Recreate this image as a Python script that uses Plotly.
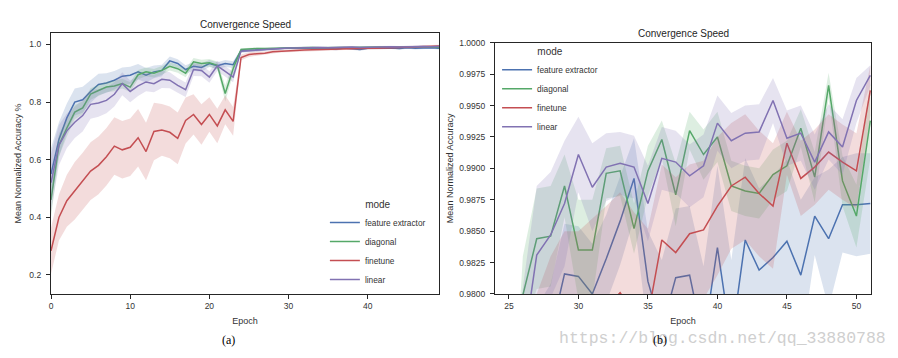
import plotly.graph_objects as go

# ---------------- data: panel (a) ----------------
epochs_a = list(range(0, 50))

fe_a = [0.55, 0.67, 0.745, 0.80, 0.808, 0.837, 0.861, 0.866, 0.876, 0.890,
        0.893, 0.905, 0.893, 0.905, 0.910, 0.943, 0.934, 0.913, 0.924, 0.920,
        0.934, 0.926, 0.934, 0.930,
        0.978, 0.980, 0.981, 0.983, 0.985, 0.986, 0.988, 0.987, 0.988, 0.987,
        0.988, 0.987, 0.984, 0.988, 0.985, 0.983, 0.987, 0.986, 0.987, 0.988,
        0.986, 0.989, 0.987, 0.988, 0.989, 0.987]
dg_a = [0.46, 0.65, 0.71, 0.765, 0.78, 0.828, 0.840, 0.852, 0.856, 0.864,
        0.852, 0.895, 0.905, 0.900, 0.910, 0.924, 0.916, 0.900, 0.940, 0.934,
        0.937, 0.928, 0.830, 0.916,
        0.983, 0.985, 0.986, 0.986, 0.987, 0.988, 0.988, 0.989, 0.989, 0.990,
        0.989, 0.990, 0.991, 0.990, 0.990, 0.991, 0.990, 0.991, 0.991, 0.990,
        0.991, 0.991, 0.992, 0.991, 0.992, 0.990]
ft_a = [0.283, 0.399, 0.457, 0.492, 0.524, 0.560, 0.580, 0.610, 0.647, 0.634,
        0.643, 0.676, 0.628, 0.698, 0.703, 0.695, 0.674, 0.736, 0.757, 0.722,
        0.757, 0.717, 0.773, 0.733,
        0.955, 0.965, 0.968, 0.970, 0.975, 0.977, 0.978, 0.980, 0.981, 0.982,
        0.983, 0.984, 0.984, 0.985, 0.986, 0.986, 0.987, 0.987, 0.988, 0.988,
        0.989, 0.990, 0.991, 0.992, 0.993, 0.995]
ln_a = [0.52, 0.65, 0.70, 0.73, 0.753, 0.792, 0.797, 0.806, 0.827, 0.864,
        0.837, 0.856, 0.870, 0.864, 0.879, 0.876, 0.858, 0.843, 0.913, 0.910,
        0.887, 0.926, 0.907, 0.887,
        0.977, 0.979, 0.980, 0.983, 0.986, 0.987, 0.988, 0.988, 0.989, 0.989,
        0.990, 0.989, 0.990, 0.990, 0.991, 0.990, 0.991, 0.991, 0.991, 0.992,
        0.991, 0.992, 0.992, 0.993, 0.992, 0.993]

# half-widths of the shaded confidence bands
fe_ci_a = [0.09, 0.06, 0.05, 0.047, 0.045, 0.040, 0.037, 0.034, 0.032, 0.030,
           0.030, 0.027, 0.025, 0.022, 0.020, 0.015, 0.015, 0.015, 0.015, 0.015,
           0.012, 0.012, 0.012, 0.012,
           0.006, 0.005, 0.005, 0.005, 0.004, 0.004, 0.004, 0.004, 0.004, 0.004,
           0.004, 0.004, 0.005, 0.004, 0.004, 0.005, 0.004, 0.004, 0.004, 0.004,
           0.004, 0.004, 0.004, 0.004, 0.004, 0.004]
dg_ci_a = [0.06, 0.04, 0.03, 0.025, 0.022, 0.020, 0.020, 0.018, 0.018, 0.017,
           0.017, 0.016, 0.015, 0.015, 0.015, 0.014, 0.014, 0.014, 0.013, 0.013,
           0.013, 0.013, 0.028, 0.020,
           0.004, 0.004, 0.004, 0.003, 0.003, 0.003, 0.003, 0.003, 0.003, 0.003,
           0.003, 0.003, 0.003, 0.003, 0.003, 0.003, 0.003, 0.003, 0.003, 0.003,
           0.003, 0.003, 0.003, 0.003, 0.003, 0.003]
ft_ci_a = [0.08, 0.08, 0.09, 0.10, 0.10, 0.10, 0.10, 0.10, 0.10, 0.10,
           0.10, 0.10, 0.10, 0.10, 0.09, 0.09, 0.09, 0.08, 0.07, 0.07,
           0.06, 0.06, 0.05, 0.05,
           0.010, 0.008, 0.007, 0.006, 0.006, 0.005, 0.005, 0.005, 0.004, 0.004,
           0.004, 0.004, 0.004, 0.004, 0.004, 0.004, 0.004, 0.004, 0.004, 0.004,
           0.004, 0.004, 0.004, 0.004, 0.004, 0.004]
ln_ci_a = [0.10, 0.07, 0.06, 0.055, 0.055, 0.050, 0.048, 0.045, 0.042, 0.040,
           0.038, 0.035, 0.032, 0.030, 0.030, 0.028, 0.026, 0.025, 0.022, 0.020,
           0.020, 0.018, 0.018, 0.018,
           0.006, 0.005, 0.005, 0.004, 0.004, 0.004, 0.004, 0.004, 0.004, 0.004,
           0.004, 0.004, 0.004, 0.004, 0.004, 0.004, 0.004, 0.004, 0.004, 0.004,
           0.004, 0.004, 0.004, 0.004, 0.004, 0.004]

# ---------------- data: panel (b) ----------------
epochs_b = list(range(24, 52))

fe_b = [0.9550, 0.9650, 0.9720, 0.9750, 0.9768, 0.9816, 0.9814, 0.9800, 0.9828, 0.9858,
        0.9892, 0.9810, 0.9772, 0.9813, 0.9815, 0.9762, 0.9837, 0.9762, 0.9843, 0.9819,
        0.9829, 0.9842, 0.9815, 0.9862, 0.9844, 0.9871, 0.9871, 0.9872]
dg_b = [0.9500, 0.9600, 0.9799, 0.9844, 0.9846, 0.9886, 0.9835, 0.9835, 0.9896, 0.9898,
        0.9852, 0.9898, 0.9923, 0.9879, 0.9930, 0.9911, 0.9925, 0.9886, 0.9882, 0.9880,
        0.9895, 0.9902, 0.9932, 0.9893, 0.9966, 0.9890, 0.9862, 0.9938]
ft_b = [0.9450, 0.9550, 0.9660, 0.9720, 0.9750, 0.9770, 0.9770, 0.9780, 0.9790, 0.9801,
        0.9785, 0.9782, 0.9843, 0.9833, 0.9848, 0.9851, 0.9870, 0.9886, 0.9893, 0.9880,
        0.9870, 0.9920, 0.9892, 0.9901, 0.9913, 0.9905, 0.9898, 0.9962]
ln_b = [0.9500, 0.9600, 0.9755, 0.9831, 0.9847, 0.9872, 0.9911, 0.9885, 0.9901, 0.9904,
        0.9901, 0.9872, 0.9908, 0.9905, 0.9894, 0.9902, 0.9936, 0.9922, 0.9928, 0.9929,
        0.9954, 0.9924, 0.9928, 0.9905, 0.9929, 0.9917, 0.9954, 0.9974]

fe_ci_b = [0.004, 0.004, 0.004, 0.004, 0.004, 0.004, 0.004, 0.004, 0.0035, 0.0035,
           0.0032, 0.004, 0.0055, 0.0055, 0.0055, 0.006, 0.0065, 0.0065, 0.0065, 0.0065,
           0.0065, 0.0065, 0.006, 0.0031, 0.0055, 0.0038, 0.0041, 0.004]
dg_ci_b = [0.004, 0.004, 0.0031, 0.004, 0.004, 0.0025, 0.004, 0.004, 0.002, 0.002,
           0.002, 0.002, 0.0015, 0.0025, 0.0015, 0.002, 0.002, 0.002, 0.002, 0.002,
           0.002, 0.002, 0.0015, 0.002, 0.001, 0.002, 0.0025, 0.003]
ft_ci_b = [0.008, 0.008, 0.008, 0.008, 0.008, 0.008, 0.008, 0.008, 0.008, 0.008,
           0.008, 0.007, 0.006, 0.006, 0.0055, 0.0055, 0.0055, 0.005, 0.005, 0.005,
           0.005, 0.0025, 0.003, 0.003, 0.003, 0.003, 0.003, 0.002]
ln_ci_b = [0.005, 0.005, 0.005, 0.0055, 0.005, 0.005, 0.003, 0.0035, 0.0027, 0.0025,
           0.0025, 0.003, 0.0025, 0.0025, 0.0025, 0.0025, 0.0022, 0.0022, 0.0022, 0.0022,
           0.0018, 0.0022, 0.0022, 0.0022, 0.0022, 0.0022, 0.0018, 0.0008]

modes = ["feature extractor", "diagonal", "finetune", "linear"]
colors = ["#4C72B0", "#55A868", "#C44E52", "#8172B2"]

ticks_a_x = [0, 10, 20, 30, 40]
ticks_a_y = [0.2, 0.4, 0.6, 0.8, 1.0]
ticks_b_x = [25, 30, 35, 40, 45, 50]
ticks_b_y = [0.98, 0.9825, 0.985, 0.9875, 0.99, 0.9925, 0.995, 0.9975, 1.0]


def rgba(hx, a):
    hx = hx.lstrip("#")
    return "rgba(%d,%d,%d,%s)" % (int(hx[0:2], 16), int(hx[2:4], 16), int(hx[4:6], 16), a)


fig = go.Figure()


def add_panel(epochs, means, cis, xa, ya, legend):
    for name, color, m, c in zip(modes, colors, means, cis):
        upper = [a + b for a, b in zip(m, c)]
        lower = [a - b for a, b in zip(m, c)]
        fig.add_trace(go.Scatter(
            x=epochs + epochs[::-1], y=upper + lower[::-1],
            fill="toself", fillcolor=rgba(color, 0.2), mode="lines",
            line=dict(width=0, color=rgba(color, 0)), hoverinfo="skip",
            showlegend=False, xaxis=xa, yaxis=ya))
        fig.add_trace(go.Scatter(
            x=epochs, y=m, mode="lines", name=name,
            line=dict(color=color, width=1.5),
            xaxis=xa, yaxis=ya, legend=legend))


add_panel(epochs_a, [fe_a, dg_a, ft_a, ln_a], [fe_ci_a, dg_ci_a, ft_ci_a, ln_ci_a], "x", "y", "legend")
add_panel(epochs_b, [fe_b, dg_b, ft_b, ln_b], [fe_ci_b, dg_ci_b, ft_ci_b, ln_ci_b], "x2", "y2", "legend2")

FONT = "Liberation Sans, Arial, sans-serif"
DARK = "#262626"

axis_common = dict(
    showline=True, linecolor=DARK, linewidth=1.25, mirror=True,
    ticks="outside", ticklen=4, tickwidth=1.1, tickcolor=DARK,
    showgrid=False, zeroline=False,
    tickfont=dict(family=FONT, size=8.5, color="#333333"),
    automargin=False,
)

# the page body adds an 8px offset, so the figure is 8px smaller and shifted
fig.update_layout(
    width=890, height=350,
    margin=dict(l=43, r=27, t=25, b=64),
    paper_bgcolor="white", plot_bgcolor="white",
    font=dict(family=FONT, color=DARK),
    xaxis=dict(domain=[0, 0.4732], range=[0, 49], tickvals=ticks_a_x,
               title=dict(text="Epoch", font=dict(size=9, color="#333333"), standoff=7),
               ticklabelstandoff=0, **axis_common),
    yaxis=dict(domain=[0, 1], range=[0.133, 1.04], tickvals=ticks_a_y, tickformat=".1f",
               title=dict(text="Mean Normalized Accuracy %", font=dict(size=9, color="#333333"), standoff=6),
               ticklabelstandoff=3, **axis_common),
    xaxis2=dict(domain=[0.5415, 1], range=[24, 51.05], tickvals=ticks_b_x, anchor="y2",
                title=dict(text="Epoch", font=dict(size=9, color="#333333"), standoff=7),
                ticklabelstandoff=0, **axis_common),
    yaxis2=dict(domain=[0, 0.9628], range=[0.98, 1.0], tickvals=ticks_b_y, tickformat=".4f", anchor="x2",
                title=dict(text="Mean Normalized Accuracy", font=dict(size=9, color="#333333"), standoff=4),
                ticklabelstandoff=3, **axis_common),
    legend=dict(x=0.334, y=0.0, xanchor="left", yanchor="bottom",
                bgcolor="rgba(0,0,0,0)", borderwidth=0,
                font=dict(family=FONT, size=8.3, color="#333333"),
                title=dict(text="mode", side="top center", font=dict(family=FONT, size=10, color="#333333"))),
    legend2=dict(x=0.544, y=0.965, xanchor="left", yanchor="top",
                 bgcolor="rgba(0,0,0,0)", borderwidth=0,
                 font=dict(family=FONT, size=8.3, color="#333333"),
                 title=dict(text="mode", side="top center", font=dict(family=FONT, size=10, color="#333333"))),
    showlegend=True,
)

fig.add_annotation(text="Convergence Speed", xref="x domain", yref="y domain", x=0.5, y=1,
                   xanchor="center", yanchor="bottom", yshift=1, showarrow=False,
                   font=dict(family=FONT, size=10, color=DARK))
fig.add_annotation(text="Convergence Speed", xref="x2 domain", yref="y2 domain", x=0.5, y=1,
                   xanchor="center", yanchor="bottom", yshift=2, showarrow=False,
                   font=dict(family=FONT, size=10, color=DARK))

fig.add_annotation(text="https://blog.csdn.net/qq_33880788", xref="paper", yref="paper",
                   x=(557 - 51) / 820, y=-(338 - 294) / 261, xanchor="left", yanchor="middle",
                   showarrow=False, font=dict(family="Liberation Mono, DejaVu Sans Mono, monospace", size=16.5, color="#cfcfcf"))
fig.add_annotation(text="(a)", xref="paper", yref="paper",
                   x=(228 - 51) / 820, y=-(340 - 294) / 261, xanchor="center", yanchor="middle",
                   showarrow=False, font=dict(family="Liberation Serif, serif", size=12, color="black"))
fig.add_annotation(text="(b)", xref="paper", yref="paper",
                   x=(660 - 51) / 820, y=-(340 - 294) / 261, xanchor="center", yanchor="middle",
                   showarrow=False, font=dict(family="Liberation Serif, serif", size=12, color="black"))

fig.write_html("out.html")
